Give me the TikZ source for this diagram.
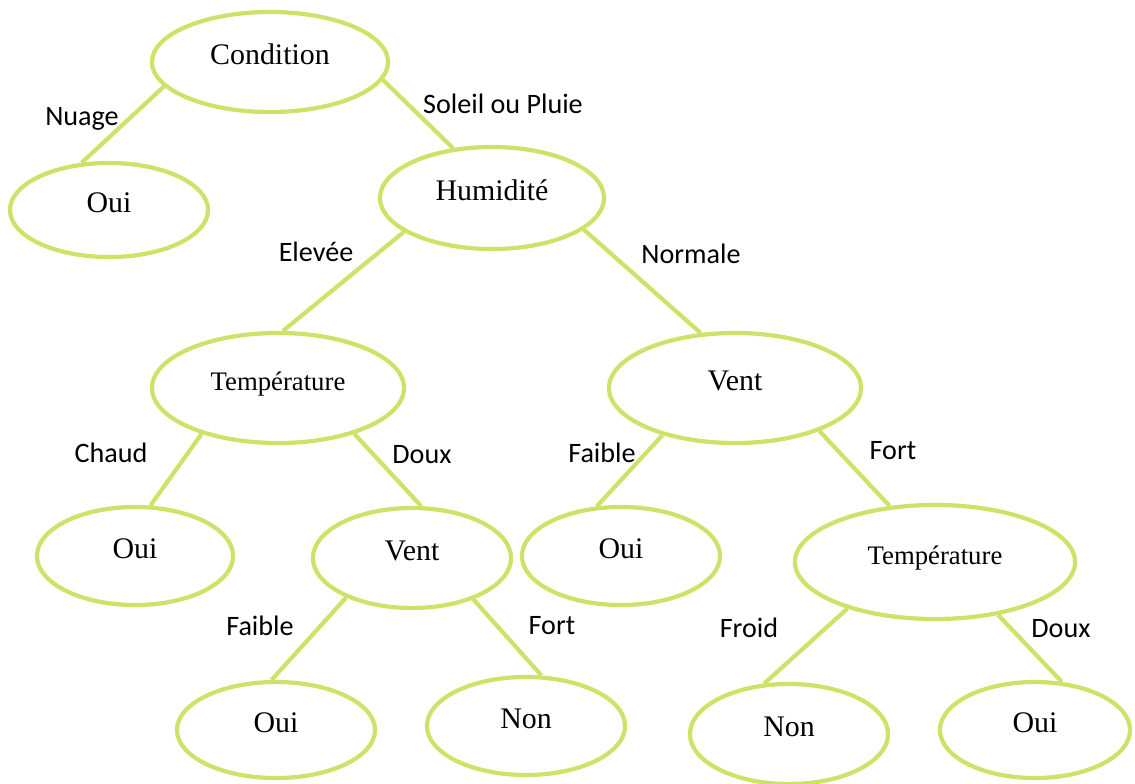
\documentclass[tikz,border=0pt]{standalone}
\usepackage{fontspec}
\setmainfont{Liberation Serif}
\newfontfamily\labelfont{Carlito}
\usetikzlibrary{shapes.geometric}
\definecolor{limeline}{RGB}{206,226,106}
\tikzset{
  leaf/.style={ellipse, draw=limeline, line width=1.2pt, inner sep=0pt,
    text height=6pt, text depth=4.6pt,
    font=\fontsize{8.5}{10}\selectfont},
  edge/.style={draw=limeline, line width=1.2pt},
  branch/.style={font=\labelfont\fontsize{8}{9}\selectfont, inner sep=0pt},
  small/.style={font=\fontsize{7.6}{9}\selectfont}
}
\begin{document}
\begin{tikzpicture}[x=0.01cm, y=-0.01cm]
\useasboundingbox (0,0) rectangle (1135,784);
% tree nodes
\node[leaf, minimum width=2.36cm, minimum height=1.00cm] (cond) at (270,62) {Condition};
\node[leaf, minimum width=1.98cm, minimum height=0.94cm] (oui1) at (109,210) {Oui};
\node[leaf, minimum width=2.24cm, minimum height=1.02cm] (hum) at (492,198) {Humidité};
\node[leaf, small, minimum width=2.52cm, minimum height=1.10cm] (tempL) at (278,388) {Température};
\node[leaf, minimum width=2.52cm, minimum height=1.10cm] (ventR) at (735,388) {Vent};
\node[leaf, minimum width=1.96cm, minimum height=0.98cm] (oui2) at (135,556) {Oui};
\node[leaf, minimum width=1.98cm, minimum height=1.00cm] (ventM) at (412,558) {Vent};
\node[leaf, minimum width=1.98cm, minimum height=0.98cm] (oui3) at (621,556) {Oui};
\node[leaf, small, minimum width=2.80cm, minimum height=1.14cm] (tempR) at (935,562) {Température};
\node[leaf, minimum width=1.98cm, minimum height=0.96cm] (oui4) at (276,730) {Oui};
\node[leaf, minimum width=1.98cm, minimum height=0.98cm] (non1) at (526,726) {Non};
\node[leaf, minimum width=1.98cm, minimum height=1.00cm] (non2) at (789,734) {Non};
\node[leaf, minimum width=1.90cm, minimum height=0.96cm] (oui5) at (1035,730) {Oui};
% branches
\draw[edge] (cond.193) -- (oui1.120);
\draw[edge] (cond.351) -- (hum.128);
\draw[edge] (hum.201) -- (tempL.85);
\draw[edge] (hum.341) -- (ventR.122);
\draw[edge] (tempL.211) -- (oui2.73);
\draw[edge] (tempL.329) -- (ventM.80);
\draw[edge] (ventR.213) -- (oui3.116);
\draw[edge] (ventR.333) -- (tempR.129);
\draw[edge] (ventM.211) -- (oui4.95);
\draw[edge] (ventM.326) -- (non1.73);
\draw[edge] (tempR.208) -- (non2.116);
\draw[edge] (tempR.320) -- (oui5.61);
% branch labels
\node[branch] (l1) at (82,119) {Nuage};
\node[branch] (l2) at (503,104) {Soleil ou Pluie};
\node[branch] (l3) at (316,252) {Elevée};
\node[branch] (l4) at (691,254) {Normale};
\node[branch] (l5) at (111,453) {Chaud};
\node[branch] (l6) at (422,455) {Doux};
\node[branch] (l7) at (602,453) {Faible};
\node[branch] (l8) at (893,451) {Fort};
\node[branch] (l9) at (260,626) {Faible};
\node[branch] (l10) at (552,626) {Fort};
\node[branch] (l11) at (749,628) {Froid};
\node[branch] (l12) at (1061,629) {Doux};
\end{tikzpicture}
\end{document}
